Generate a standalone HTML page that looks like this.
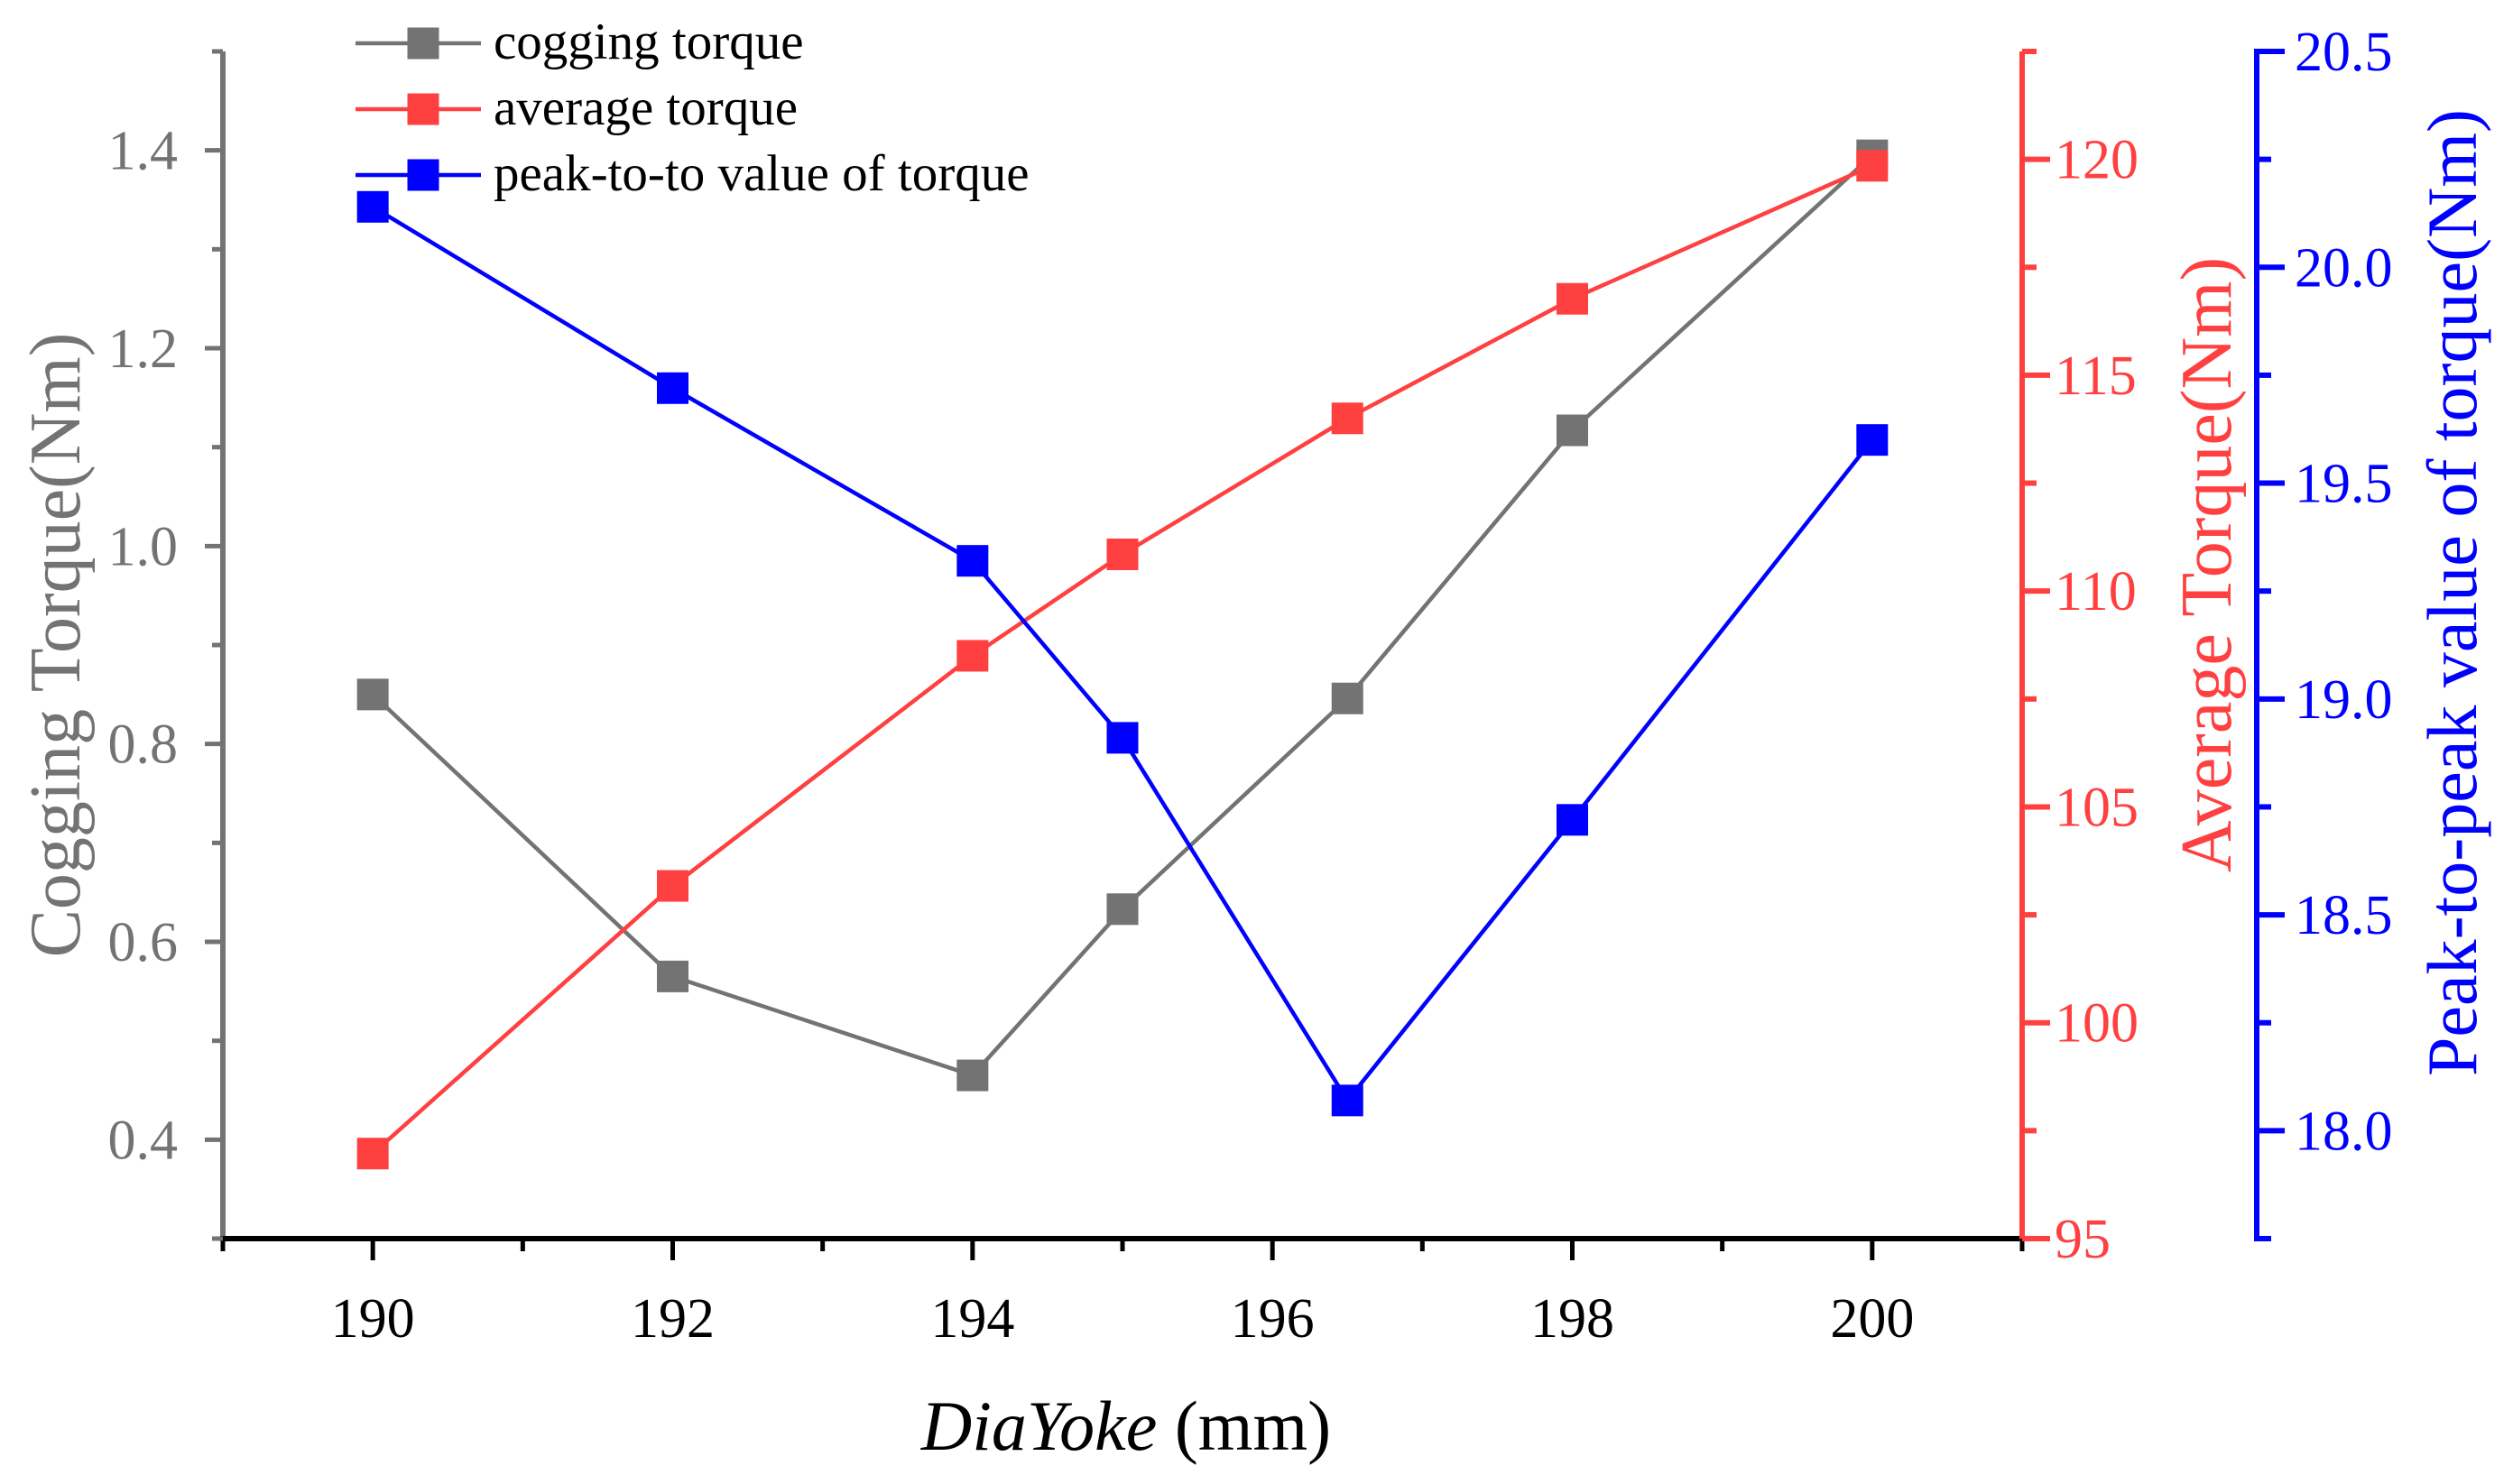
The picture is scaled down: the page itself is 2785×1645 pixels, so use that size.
<!DOCTYPE html>
<html><head><meta charset="utf-8"><style>body{margin:0;background:#fff}svg{display:block}text{font-family:"Liberation Serif",serif}</style></head>
<body>
<svg id="chart" width="2785" height="1645" viewBox="0 0 2785 1645" xmlns="http://www.w3.org/2000/svg"></svg>
<script>
const categories=[190,192,194,195,196.5,198,200];
const coggingTorque=[0.85,0.565,0.465,0.633,0.846,1.117,1.395];
const averageTorque=[96.97,103.17,108.5,110.85,114.0,116.77,119.85];
const peakToPeak=[20.14,19.72,19.32,18.91,18.07,18.72,19.60];
const xTicks=[190,192,194,196,198,200];
const xMinor=[189,191,193,195,197,199,201];
const leftTicks=[0.4,0.6,0.8,1.0,1.2,1.4];
const leftMinor=[0.3,0.5,0.7,0.9,1.1,1.3,1.5];
const redTicks=[95,100,105,110,115,120];
const redMinor=[97.5,102.5,107.5,112.5,117.5,122.5];
const blueTicks=[18.0,18.5,19.0,19.5,20.0,20.5];
const blueMinor=[17.75,18.25,18.75,19.25,19.75,20.25];

const L=247,R=2241,T=57,B=1373,BX=2501;
const x=v=>L+(v-189)/(201-189)*(R-L);
const yL=v=>B-(v-0.3)/(1.5-0.3)*(B-T);
const yR=v=>B-(v-95)/(122.5-95)*(B-T);
const yB=v=>B-(v-17.75)/(20.5-17.75)*(B-T);
const svg=document.getElementById('chart');
const NS='http://www.w3.org/2000/svg';
function mk(tag,attrs,txt){const e=document.createElementNS(NS,tag);for(const k in attrs)e.setAttribute(k,attrs[k]);if(txt!==undefined)e.textContent=txt;svg.appendChild(e);return e;}
const GRAY='#737373',RED='#ff4040',BLUE='#0000ff';

let e;
e=mk('line',{x1:L,y1:T,x2:L,y2:B+3,stroke:GRAY,'stroke-width':6});

e=mk('line',{x1:L-3,y1:B,x2:R,y2:B,stroke:'#000','stroke-width':6});

e=mk('line',{x1:R,y1:T,x2:R,y2:B+3,stroke:RED,'stroke-width':6});

e=mk('line',{x1:BX,y1:T-3,x2:BX,y2:B+3,stroke:BLUE,'stroke-width':6});


xTicks.forEach(v=>{mk('line',{x1:x(v),y1:B,x2:x(v),y2:B+24,stroke:'#000','stroke-width':5});
 e=mk('text',{x:x(v),y:1482,'font-size':62,'text-anchor':'middle',fill:'#000'},String(v));
 });
xMinor.forEach(v=>mk('line',{x1:x(v),y1:B,x2:x(v),y2:B+14,stroke:'#000','stroke-width':5}));
leftTicks.forEach(v=>{mk('line',{x1:L,y1:yL(v),x2:L-20,y2:yL(v),stroke:GRAY,'stroke-width':5});
 e=mk('text',{x:197,y:yL(v)+21,'font-size':62,'text-anchor':'end',fill:GRAY},v.toFixed(1));
 });
leftMinor.forEach(v=>mk('line',{x1:L,y1:yL(v),x2:L-12,y2:yL(v),stroke:GRAY,'stroke-width':5}));
redTicks.forEach(v=>{mk('line',{x1:R,y1:yR(v),x2:R+31,y2:yR(v),stroke:RED,'stroke-width':6});
 e=mk('text',{x:2277,y:yR(v)+21,'font-size':62,fill:RED},String(v));
 });
redMinor.forEach(v=>mk('line',{x1:R,y1:yR(v),x2:R+16,y2:yR(v),stroke:RED,'stroke-width':6}));
blueTicks.forEach(v=>{mk('line',{x1:BX,y1:yB(v),x2:BX+31,y2:yB(v),stroke:BLUE,'stroke-width':6});
 e=mk('text',{x:2543,y:yB(v)+21,'font-size':62,fill:BLUE},v.toFixed(1));
 });
blueMinor.forEach(v=>mk('line',{x1:BX,y1:yB(v),x2:BX+16,y2:yB(v),stroke:BLUE,'stroke-width':6}));

e=mk('text',{x:0,y:0,'font-size':80,'text-anchor':'middle',fill:GRAY,transform:'translate(88,715) rotate(-90)'},'Cogging Torque(Nm)');

e=mk('text',{x:0,y:0,'font-size':80,'text-anchor':'middle',fill:RED,transform:'translate(2472,626) rotate(-90)'},'Average Torque(Nm)');

e=mk('text',{x:0,y:0,'font-size':78,'text-anchor':'middle',fill:BLUE,transform:'translate(2744,657) rotate(-90)'},'Peak-to-peak value of torque(Nm)');

e=mk('text',{x:1248,y:1607,'font-size':78,'text-anchor':'middle',fill:'#000'});
e.innerHTML='<tspan font-style="italic">DiaYoke</tspan> (mm)';


function series(vals,yf,color,name){
 const pts=categories.map((c,i)=>x(c)+','+yf(vals[i])).join(' ');
 e=mk('polyline',{points:pts,fill:'none',stroke:color,'stroke-width':4.5});
 
 categories.forEach((c,i)=>{e=mk('rect',{x:x(c)-17.5,y:yf(vals[i])-17.5,width:35,height:35,fill:color});
  });
}
series(coggingTorque,yL,GRAY,'cogging-torque');
series(averageTorque,yR,RED,'average-torque');
series(peakToPeak,yB,BLUE,'peak-to-peak');

const leg=[['cogging torque',GRAY,48],['average torque',RED,121],['peak-to-to value of torque',BLUE,194]];
leg.forEach(([t,c,y])=>{
 mk('line',{x1:394,y1:y,x2:533,y2:y,stroke:c,'stroke-width':4.5});
 mk('rect',{x:451.5,y:y-17.5,width:35,height:35,fill:c});
 e=mk('text',{x:547,y:y+17,'font-size':57,fill:'#000'},t);
 
});
</script>
</body></html>
